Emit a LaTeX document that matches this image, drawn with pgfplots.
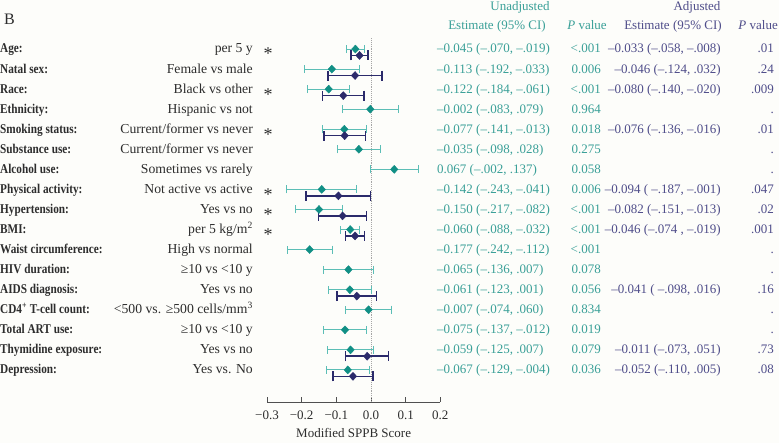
\documentclass[border=0pt]{standalone}
\usepackage{fontspec}
\setmainfont{Liberation Serif}
\newfontfamily\labfam[FakeStretch=0.84]{Liberation Serif}
\usepackage{pgfplots}
\pgfplotsset{compat=1.18}
\usepackage{pgfplotstable}
\definecolor{tealm}{RGB}{17,143,133}
\definecolor{teale}{RGB}{92,190,182}
\definecolor{tealt}{RGB}{58,160,152}
\definecolor{navy}{RGB}{43,42,107}
\definecolor{navyt}{RGB}{79,77,138}
\definecolor{labgray}{RGB}{45,45,45}
\definecolor{axgray}{RGB}{80,80,80}
\definecolor{bgc}{RGB}{253,253,250}

\pgfplotstableread{
row est lo hi
1 -0.045 -0.070 -0.019
2 -0.113 -0.192 -0.033
3 -0.122 -0.184 -0.061
4 -0.002 -0.083 0.079
5 -0.077 -0.141 -0.013
6 -0.035 -0.098 0.028
7 0.067 -0.002 0.137
8 -0.142 -0.243 -0.041
9 -0.150 -0.217 -0.082
10 -0.060 -0.088 -0.032
11 -0.177 -0.242 -0.112
12 -0.065 -0.136 0.007
13 -0.061 -0.123 0.001
14 -0.007 -0.074 0.060
15 -0.075 -0.137 -0.012
16 -0.059 -0.125 0.007
17 -0.067 -0.129 -0.004
}\unadj

\pgfplotstableread{
row est lo hi
1.32 -0.033 -0.058 -0.008
2.32 -0.046 -0.124 0.032
3.32 -0.080 -0.140 -0.020
5.32 -0.076 -0.136 -0.016
8.32 -0.094 -0.187 -0.001
9.32 -0.082 -0.151 -0.013
10.32 -0.046 -0.074 -0.019
13.32 -0.041 -0.098 0.016
16.32 -0.011 -0.073 0.051
17.32 -0.052 -0.110 0.005
}\adj

\newcommand\fs{\fontsize{13}{15}\selectfont}
\tikzset{txt/.style={font=\fs, inner sep=0pt, text=labgray}}

\newcommand\R[8]{%
 \pgfmathsetmacro\yy{410.06-#1*20.06}%
 \node[txt,anchor=base west,font=\fontsize{13.4}{15}\selectfont\labfam\bfseries] at (0,\yy) {#2};
 \node[txt,anchor=base east,font=\fontsize{13.7}{15}\selectfont] at (253,\yy) {#3};
 \node[txt,anchor=base,font=\fontsize{18}{18}\selectfont] at (268,\yy-7) {#4};
 \node[txt,anchor=base west,text=tealt] at (437,\yy) {#5};
 \node[txt,anchor=base east,text=tealt] at (601,\yy) {#6};
 \node[txt,anchor=base east,text=navyt] at (721,\yy) {#7};
 \node[txt,anchor=base east,text=navyt] at (774,\yy) {#8};
}

\begin{document}
\begin{tikzpicture}[x=1pt,y=1pt]
\fill[bgc] (0,0) rectangle (779,443);
\begin{axis}[
 at={(267pt,41pt)}, anchor=south west, scale only axis,
 width=173.33pt, height=373pt,
 xmin=-0.3, xmax=0.2, ymin=-18.6, ymax=0,
 axis x line*=bottom, axis y line=none,
 x axis line style={-, draw=axgray, line width=0.9pt},
 xtick={-0.3,-0.2,-0.1,0,0.1,0.2},
 xticklabels={−0.3,−0.2,−0.1,0.0,0.1,0.2},
 tick align=inside, major tick length=5pt,
 tick style={draw=axgray, line width=0.9pt},
 ytick=\empty,
 xticklabel style={font=\fs, text=labgray, yshift=-5pt},
 xlabel={Modified SPPB Score},
 xlabel style={font=\fs, text=labgray, at={(axis description cs:0.5,0)}, anchor=base, yshift=-36pt},
 clip=false,
]
\draw[gray!70, densely dotted, line width=0.9pt] (axis cs:0,-0.45) -- (axis cs:0,-18.6);
\addplot[teale, only marks, mark=none,
  error bars/.cd, x dir=both, x explicit, error mark=|,
  error bar style={teale, line width=1pt},
  error mark options={teale, line width=1pt, mark size=4pt}]
  table[x=est, y expr=-\thisrow{row},
        x error plus expr=\thisrow{hi}-\thisrow{est},
        x error minus expr=\thisrow{est}-\thisrow{lo}] {\unadj};
\addplot[tealm, only marks, mark=diamond*, mark size=4pt, mark options={xscale=1.25}]
  table[x=est, y expr=-\thisrow{row}] {\unadj};
\addplot[navy, only marks, mark=none,
  error bars/.cd, x dir=both, x explicit, error mark=|,
  error bar style={navy, line width=1.6pt},
  error mark options={navy, line width=1.6pt, mark size=5pt}]
  table[x=est, y expr=-\thisrow{row},
        x error plus expr=\thisrow{hi}-\thisrow{est},
        x error minus expr=\thisrow{est}-\thisrow{lo}] {\adj};
\addplot[navy, only marks, mark=diamond*, mark size=4pt, mark options={xscale=1.25}]
  table[x=est, y expr=-\thisrow{row}] {\adj};
\end{axis}

\node[txt,anchor=base west,font=\fontsize{16}{18}\selectfont] at (4,418) {B};
\node[txt,anchor=base,text=tealt] at (520,432) {Unadjusted};
\node[txt,anchor=base,text=tealt] at (497,413) {Estimate (95\% CI)};
\node[txt,anchor=base,text=tealt] at (587,413) {\textit{P} value};
\node[txt,anchor=base,text=navyt] at (697,432) {Adjusted};
\node[txt,anchor=base,text=navyt] at (673,413) {Estimate (95\% CI)};
\node[txt,anchor=base east,text=navyt] at (778,413) {\textit{P} value};

\R{1}{Age:}{per 5 y}{*}{–0.045 (–.070, –.019)}{<.001}{–0.033 (–.058, –.008)}{.01}
\R{2}{Natal sex:}{Female vs male}{}{–0.113 (–.192, –.033)}{0.006}{–0.046 (–.124, .032)}{.24}
\R{3}{Race:}{Black vs other}{*}{–0.122 (–.184, –.061)}{<.001}{–0.080 (–.140, –.020)}{.009}
\R{4}{Ethnicity:}{Hispanic vs not}{}{–0.002 (–.083, .079)}{0.964}{}{.}
\R{5}{Smoking status:}{Current/former vs never}{*}{–0.077 (–.141, –.013)}{0.018}{–0.076 (–.136, –.016)}{.01}
\R{6}{Substance use:}{Current/former vs never}{}{–0.035 (–.098, .028)}{0.275}{}{.}
\R{7}{Alcohol use:}{Sometimes vs rarely}{}{0.067 (–.002, .137)}{0.058}{}{.}
\R{8}{Physical activity:}{Not active vs active}{*}{–0.142 (–.243, –.041)}{0.006}{–0.094 ( –.187, –.001)}{.047}
\R{9}{Hypertension:}{Yes vs no}{*}{–0.150 (–.217, –.082)}{<.001}{–0.082 (–.151, –.013)}{.02}
\R{10}{BMI:}{per 5 kg/m\textsuperscript{2}}{*}{–0.060 (–.088, –.032)}{<.001}{–0.046 (–.074 , –.019)}{.001}
\R{11}{Waist circumference:}{High vs normal}{}{–0.177 (–.242, –.112)}{<.001}{}{.}
\R{12}{HIV duration:}{≥10 vs <10 y}{}{–0.065 (–.136, .007)}{0.078}{}{.}
\R{13}{AIDS diagnosis:}{Yes vs no}{}{–0.061 (–.123, .001)}{0.056}{–0.041 ( –.098, .016)}{.16}
\R{14}{CD4\textsuperscript{+} T-cell count:}{<500 vs. ≥500 cells/mm\textsuperscript{3}}{}{–0.007 (–.074, .060)}{0.834}{}{.}
\R{15}{Total ART use:}{≥10 vs <10 y}{}{–0.075 (–.137, –.012)}{0.019}{}{.}
\R{16}{Thymidine exposure:}{Yes vs no}{}{–0.059 (–.125, .007)}{0.079}{–0.011 (–.073, .051)}{.73}
\R{17}{Depression:}{Yes vs. No}{}{–0.067 (–.129, –.004)}{0.036}{–0.052 (–.110, .005)}{.08}

\pgfresetboundingbox
\path (0,0) rectangle (779,443);
\end{tikzpicture}
\end{document}
